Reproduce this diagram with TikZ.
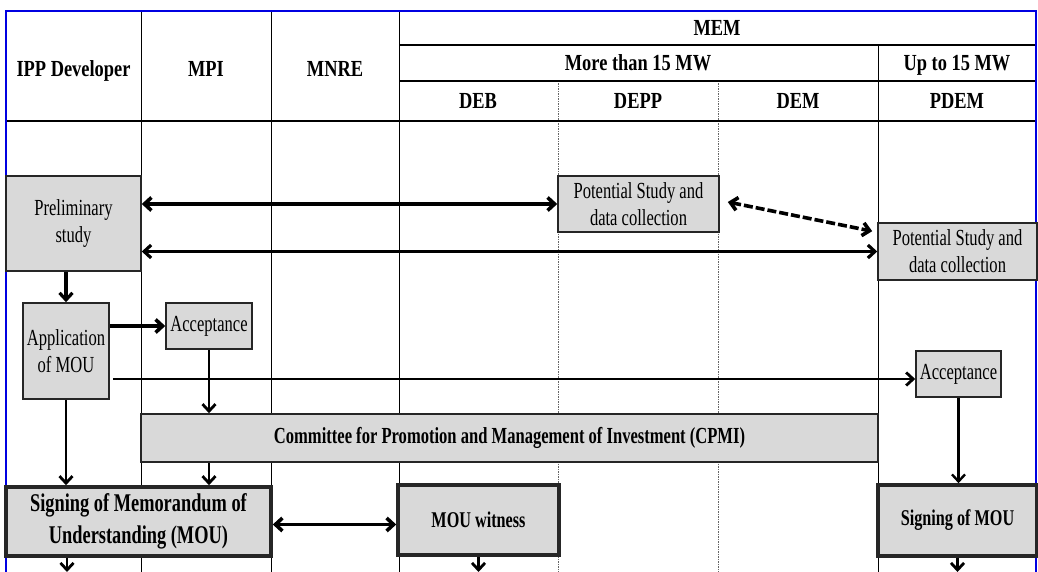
\documentclass[tikz,border=0pt]{standalone}
\usepackage{fontspec}
\setmainfont{Liberation Serif}[FakeStretch=0.72]
\newfontfamily\hdfont{Liberation Serif}[FakeStretch=0.8]
\usetikzlibrary{arrows.meta,calc}
\definecolor{boxgray}{RGB}{217,217,217}
\definecolor{frameblue}{RGB}{0,0,225}
\tikzset{
  box/.style={draw=black!85, fill=boxgray, line width=1.6pt, inner sep=0pt, align=center,
    font=\fontsize{23}{27}\selectfont},
  bigbox/.style={box, line width=3.6pt, font=\bfseries\fontsize{22.5}{31}\selectfont},
  cpmibox/.style={box, font=\bfseries\fontsize{23}{27}\selectfont},
  head/.style={inner sep=0pt, anchor=base, font=\hdfont\bfseries\fontsize{23}{27}\selectfont},
  arr/.style={-{Straight Barb[length=7pt,width=13pt]}, line width=2.8pt},
  dbl/.style={{Straight Barb[length=7pt,width=13pt]}-{Straight Barb[length=7pt,width=13pt]}, line width=3.6pt},
  grid/.style={line width=1pt, black},
  dotgrid/.style={line width=1pt, black!60, dash pattern=on 1.5pt off 1pt},
  hline/.style={line width=2pt, black},
}
\begin{document}
\begin{tikzpicture}[x=1pt,y=-1pt]
\useasboundingbox (0,0) rectangle (1038,572);
% table grid
\draw[grid] (141,11) -- (141,572);
\draw[grid] (271,11) -- (271,572);
\draw[grid] (399,11) -- (399,572);
\draw[grid] (878,45) -- (878,572);
\draw[dotgrid] (558,81) -- (558,572);
\draw[dotgrid] (718,81) -- (718,572);
\draw[hline] (399,45) -- (1036,45);
\draw[hline] (399,81) -- (1036,81);
\draw[line width=2.5pt] (6,121) -- (1036,121);
\draw[frameblue, line width=2.5pt] (6,572) -- (6,11) -- (1036,11) -- (1036,572);
% headers
\node[head] (hipp) at (73.5,77) {IPP Developer};
\node[head] (hmpi) at (206,77) {MPI};
\node[head] (hmnre) at (335,77) {MNRE};
\node[head] (hmem) at (717,35.5) {MEM};
\node[head] (hmore) at (638,70.5) {More than 15 MW};
\node[head] (hup) at (957,70.5) {Up to 15 MW};
\node[head] (hdeb) at (478,108.5) {DEB};
\node[head] (hdepp) at (638,108.5) {DEPP};
\node[head] (hdem) at (798,108.5) {DEM};
\node[head] (hpdem) at (957,108.5) {PDEM};
% boxes
\node[box, minimum width=135, minimum height=95] (prelim) at (73.5,223.5) {Preliminary\\study};
\node[box, minimum width=86, minimum height=96] (app) at (66,351) {Application\\of MOU};
\node[box, minimum width=86, minimum height=46] (acc1) at (209,326) {Acceptance};
\node[box, minimum width=161, minimum height=56] (pot1) at (638.5,204) {Potential Study and\\data collection};
\node[box, minimum width=159, minimum height=57] (pot2) at (957.5,251.5) {Potential Study and\\data collection};
\node[box, minimum width=85, minimum height=46] (acc2) at (958.5,374) {Acceptance};
\node[cpmibox, minimum width=737, minimum height=48] (cpmi) at (509.5,438) {Committee for Promotion and Management of Investment (CPMI)};
\node[bigbox, minimum width=265, minimum height=69, font=\bfseries\fontsize{25.5}{32}\selectfont] (sign1) at (138.5,521.5) {Signing of Memorandum of\\Understanding (MOU)};
\node[bigbox, minimum width=161, minimum height=70] (wit) at (478.5,520) {MOU witness};
\node[bigbox, minimum width=159, minimum height=71] (sign2) at (957.5,520.5) {Signing of MOU};
% connectors
\draw[dbl] (prelim.east |- pot1.west) -- (pot1.west);
\draw[dbl, line width=3.2pt] (prelim.east |- pot2.west) -- (pot2.west);
\draw[dbl, dash pattern=on 9pt off 3pt] ($(pot1.east)+(8,-2)$) -- ($(pot2.north west)+(-5,9)$);
\draw[arr, line width=3.2pt] (app.north |- prelim.south) -- (app.north);
\draw[arr, line width=3.6pt] (app.east |- acc1.west) -- (acc1.west);
\draw[arr] ($(app.east |- acc2.west)+(3,5)$) -- ($(acc2.west)+(0,5)$);
\draw[arr] (acc1.south) -- (acc1.south |- cpmi.north);
\draw[arr, line width=2.4pt] (acc2.south) -- (acc2.south |- sign2.north);
\draw[arr] (app.south) -- (app.south |- sign1.north);
\draw[arr] (acc1.south |- cpmi.south) -- (acc1.south |- sign1.north);
\draw[dbl] ($(sign1.east)+(0,3)$) -- ($(sign1.east -| wit.west)+(0,3)$);
\coordinate (b1) at (67,572);
\coordinate (b2) at (478.5,572);
\coordinate (b3) at (957.5,572);
\draw[arr] (sign1.south -| b1) -- (b1);
\draw[arr] (wit.south) -- (b2);
\draw[arr] (sign2.south) -- (b3);
\end{tikzpicture}
\end{document}
